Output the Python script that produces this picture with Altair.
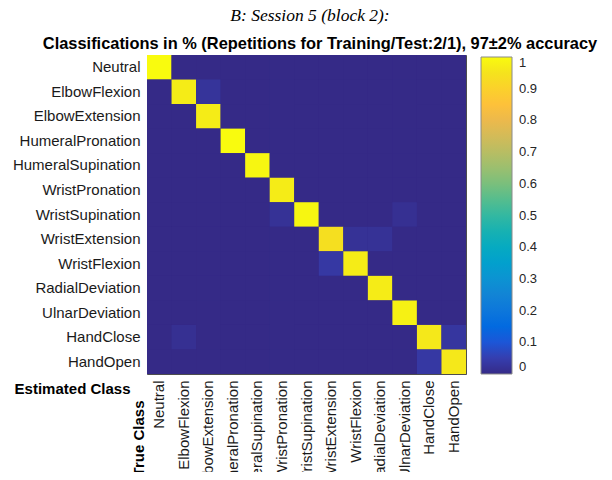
import altair as alt
import pandas as pd
import numpy as np

classes = ["Neutral", "ElbowFlexion", "ElbowExtension", "HumeralPronation",
           "HumeralSupination", "WristPronation", "WristSupination",
           "WristExtension", "WristFlexion", "RadialDeviation",
           "UlnarDeviation", "HandClose", "HandOpen"]

# diagonal values (row i, column i)
diag_vals = [1.00, 0.97, 0.97, 1.00, 0.99, 0.97, 0.99, 0.94, 0.97, 0.97, 0.98, 0.96, 0.96]

# off-diagonal non-zero cells (row index, column index, value)
off_rows = [1, 6, 6, 7, 7, 8, 11, 11, 12]
off_cols = [2, 5, 10, 8, 9, 7, 1, 12, 11]
off_vals = [0.025, 0.02, 0.015, 0.02, 0.02, 0.035, 0.015, 0.03, 0.035]

cbar_ticks = [0, 0.1, 0.2, 0.3, 0.4, 0.5, 0.6, 0.7, 0.8, 0.9, 1]

title_top = "B: Session 5 (block 2):"
title_main = "Classifications in % (Repetitions for Training/Test:2/1), 97\u00b12% accuracy"

# parula colour map (MATLAB), index in 1..64 and colour
parula_idx = [1, 2, 3, 4, 5, 6, 7, 8, 9, 10, 12, 14, 16, 18, 20, 22, 24, 26, 28, 30,
              32, 34, 36, 38, 40, 42, 44, 46, 48, 50, 52, 54, 56, 58, 60, 62, 63, 64]
parula_hex = ["#352a87", "#363093", "#3637a0", "#353dad", "#3243ba", "#2c4ac7", "#2053d4",
              "#0f5cdd", "#0363e1", "#0268e1", "#0871de", "#1079da", "#1481d6", "#1389d3",
              "#0c93d2", "#079ccf", "#06a4ca", "#07a9c2", "#0faeb9", "#1db3af", "#2eb7a4",
              "#42bb98", "#59bd8c", "#71bf80", "#87bf77", "#9cbf6f", "#aebe67", "#c0bc60",
              "#d1bb59", "#e1b952", "#f1b94a", "#fdbe3d", "#fec832", "#fad32a", "#f5de21",
              "#f5eb18", "#f6f313", "#f9fb0e"]
parula_dom = [(i - 1) / 63 for i in parula_idx]

n = len(classes)
mat = np.zeros((n, n))
for i, v in enumerate(diag_vals):
    mat[i, i] = v
for r, c, v in zip(off_rows, off_cols, off_vals):
    mat[r, c] = v

rows = []
for i in range(n):
    for j in range(n):
        rows.append({"row": classes[i], "col": classes[j], "val": float(mat[i, j])})
df = pd.DataFrame(rows)

FONT = "Liberation Sans"

heat = alt.Chart(df).mark_rect().encode(
    x=alt.X("col:O", sort=classes, scale=alt.Scale(paddingInner=0, paddingOuter=0),
            axis=alt.Axis(title="True Class", labelAngle=270, labelAlign="right",
                          labelBaseline="middle", labelPadding=6, ticks=False, domain=False,
                          grid=False,
                          labelFont=FONT, labelFontSize=15, labelColor="#1a1a1a",
                          titleFont=FONT, titleFontSize=15, titleFontWeight="bold",
                          titleColor="#000000", titleAngle=270, titleAlign="right",
                          titleBaseline="middle", titleX=-9, titleY=26)),
    y=alt.Y("row:O", sort=classes, scale=alt.Scale(paddingInner=0, paddingOuter=0),
            axis=alt.Axis(title="Estimated Class", labelPadding=7, ticks=False, domain=False,
                          grid=False,
                          labelFont=FONT, labelFontSize=15, labelColor="#1a1a1a",
                          titleFont=FONT, titleFontSize=15, titleFontWeight="bold",
                          titleColor="#000000", titleAngle=0, titleAlign="right",
                          titleBaseline="middle", titleX=-17, titleY=333)),
    color=alt.Color("val:Q",
                    scale=alt.Scale(domain=parula_dom, range=parula_hex),
                    legend=alt.Legend(title=None, orient="none", legendX=334, legendY=2,
                                      direction="vertical", gradientLength=317,
                                      gradientThickness=31, values=cbar_ticks, format="~g",
                                      labelFont=FONT, labelFontSize=13, labelColor="#262626",
                                      labelOffset=7, labelBaseline="middle", padding=0,
                                      gradientStrokeColor="#8a8a8a", gradientStrokeWidth=1)),
)

t1 = alt.Chart(pd.DataFrame({"t": [title_top]})).mark_text(
    font="Liberation Serif", fontSize=17.5, fontStyle="italic", color="#000000",
    align="center", baseline="alphabetic"
).encode(x=alt.value(163), y=alt.value(-34), text="t:N")

t2 = alt.Chart(pd.DataFrame({"t": [title_main]})).mark_text(
    font=FONT, fontSize=16.4, fontWeight="bold", color="#000000",
    align="center", baseline="alphabetic"
).encode(x=alt.value(173), y=alt.value(-6), text="t:N")

chart = alt.layer(heat, t1, t2).properties(
    width=319, height=319,
    autosize=alt.AutoSizeParams(type="none"),
    padding={"left": 139, "top": 47, "right": 138, "bottom": 98},
).configure_view(stroke="#4d4d4d", strokeWidth=1, fill="#352a87")

chart.save("out.html", embed_options={"renderer": "svg", "actions": False})
